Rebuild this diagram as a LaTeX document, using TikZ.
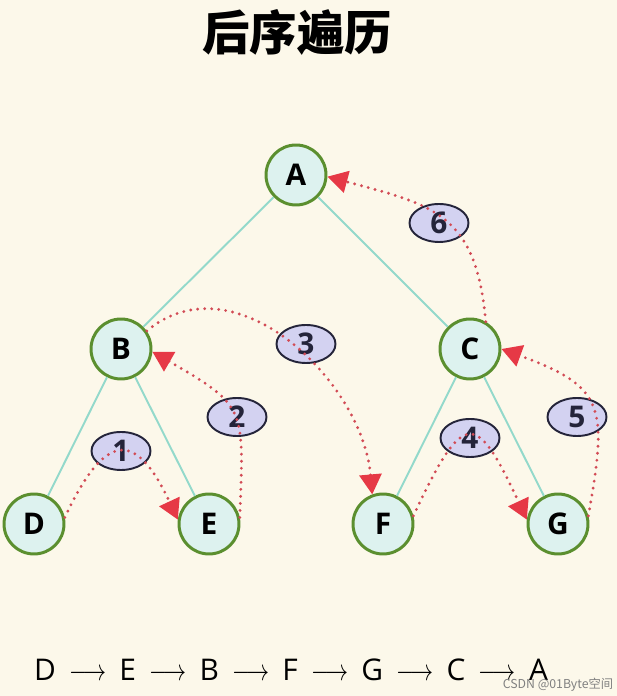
\documentclass[tikz,border=0pt]{standalone}
\usepackage{fontspec}
\setmainfont{Open Sans}
\newfontfamily\cjk{Noto Sans CJK SC}
\usetikzlibrary{arrows.meta,shapes.geometric}
\definecolor{paper}{HTML}{FCF8EA}
\definecolor{ring}{HTML}{5B8F2F}
\definecolor{cellfill}{HTML}{DDF2EF}
\definecolor{branch}{HTML}{93D9CB}
\definecolor{stepfill}{HTML}{D3D2F1}
\definecolor{ink}{HTML}{24243A}
\definecolor{walk}{HTML}{D24B55}
\definecolor{tipred}{HTML}{E63946}
\newcommand{\nxt}{\hspace{7.5pt}\scalebox{0.76}[1]{$\longrightarrow$}\hspace{7.5pt}}
\tikzset{
  treenode/.style={circle,draw=ring,fill=cellfill,line width=1.7pt,
    minimum size=1.2cm,inner sep=0pt,font=\fontsize{17}{17}\selectfont\bfseries},
  steplab/.style={ellipse,draw=ink,fill=stepfill,line width=1.1pt,
    minimum width=1.18cm,minimum height=0.76cm,inner sep=0pt,text=ink,
    font=\fontsize{17}{17}\selectfont\bfseries},
  treeedge/.style={draw=branch,line width=1.1pt},
  walkedge/.style={draw=walk,line width=1.8pt,line cap=round,
    dash pattern=on 0pt off 4pt,
    -{Triangle[length=0.4cm,width=0.44cm,color=tipred]}},
}

\begin{document}
\begin{tikzpicture}[x=0.02cm,y=0.02cm]
  \fill[paper] (0,0) rectangle (617,696);
  \useasboundingbox (0,0) rectangle (617,696);
  \node[font=\cjk\bfseries\fontsize{27}{27}\selectfont] (title) at (297,664) {后序遍历};
  % tree
  \node[treenode] (A) at (296,521) {A};
  \node[treenode] (B) at (121,347) {B};
  \node[treenode] (C) at (470,347) {C};
  \node[treenode] (D) at (34,172) {D};
  \node[treenode] (E) at (209,172) {E};
  \node[treenode] (F) at (383,172) {F};
  \node[treenode] (G) at (558,172) {G};
  \draw[treeedge] (A) -- (B);
  \draw[treeedge] (A) -- (C);
  \draw[treeedge] (B) -- (D);
  \draw[treeedge] (B) -- (E);
  \draw[treeedge] (C) -- (F);
  \draw[treeedge] (C) -- (G);
  % visiting order
  \node[steplab] (s1) at (121,245) {1};
  \node[steplab] (s2) at (237,279) {2};
  \node[steplab] (s3) at (306,352) {3};
  \node[steplab] (s4) at (470,258) {4};
  \node[steplab] (s5) at (577,279) {5};
  \node[steplab] (s6) at (439,473) {6};
  \draw[walkedge] (D.12) to[out=65,in=115,looseness=2.2] (E.172);
  \draw[walkedge] (E.12) to[out=88,in=-30,looseness=1.5] (B.-5);
  \draw[walkedge] (B.35) to[out=40,in=95,looseness=1.05] (F.110);
  \draw[walkedge] (F.15) to[out=65,in=115,looseness=2.7] (G.172);
  \draw[walkedge] (G.15) to[out=80,in=-20,looseness=1.5] (C.0);
  \draw[walkedge] (C.60) to[out=95,in=-15,looseness=1.3] (A.-3);
  % result
  \node[font=\fontsize{17}{19}\selectfont] (order) at (291,26)
    {D\nxt E\nxt B\nxt F\nxt G\nxt C\nxt A};
  \node[font=\cjk\fontsize{7}{7}\selectfont,text=gray] (mark) at (558,11) {CSDN @01Byte空间};
\end{tikzpicture}
\end{document}
